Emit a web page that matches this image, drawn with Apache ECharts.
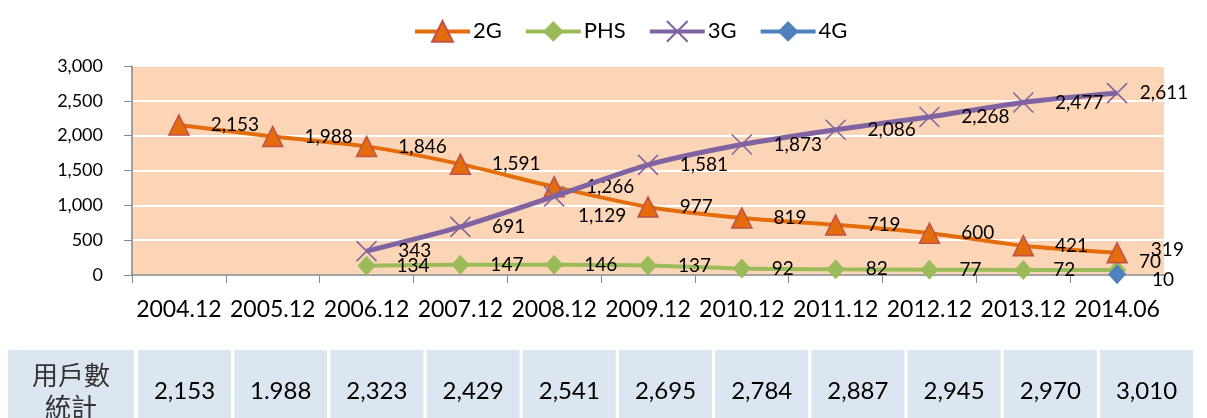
<!DOCTYPE html>
<html>
<head>
<meta charset="utf-8">
<script src="https://cdn.jsdelivr.net/npm/echarts@6/dist/echarts.min.js"></script>
<style>
html,body{margin:0;padding:0;background:#fff;}
#c{width:1207px;height:418px;}
</style>
</head>
<body>
<div id="c"></div>
<script>
const categories = ['2004.12','2005.12','2006.12','2007.12','2008.12','2009.12','2010.12','2011.12','2012.12','2013.12','2014.06'];
const s2G  = [2153,1988,1846,1591,1266,977,819,719,600,421,319];
const sPHS = [null,null,134,147,146,137,92,82,77,72,70];
const s3G  = [null,null,343,691,1129,1581,1873,2086,2268,2477,2611];
const s4G  = [null,null,null,null,null,null,null,null,null,null,10];
const tableHeader = '用戶數\n統計';
const tableValues = ['2,153','1.988','2,323','2,429','2,541','2,695','2,784','2,887','2,945','2,970','3,010'];

const FONT = 'Lato, "Open Sans", sans-serif';
const fmt = v => Number(v).toLocaleString('en-US');
const last = categories.length - 1;

function withOffset(arr, overrides) {
  return arr.map((v, i) => overrides[i] ? { value: v, label: { offset: overrides[i] } } : v);
}

const baseLabel = {
  show: true, position: 'right', distance: 21,
  color: '#000', fontFamily: FONT, fontSize: 19,
  formatter: p => fmt(p.value)
};

const xPath = 'path://M0,0L10,10M10,0L0,10';

const graphic = [];
graphic.push({ type: 'rect', shape: { x: 8, y: 350, width: 126, height: 80 }, style: { fill: '#DCE6F1' }, silent: true });
graphic.push({ type: 'text', x: 71, y: 391, style: { text: tableHeader, fill: '#333', font: '26px "Noto Sans CJK TC", sans-serif', lineHeight: 32, align: 'center', verticalAlign: 'middle' }, silent: true });
tableValues.forEach((t, i) => {
  const x = 138 + i * 96.2;
  graphic.push({ type: 'rect', shape: { x: x, y: 350, width: 93, height: 80 }, style: { fill: '#DCE6F1' }, silent: true });
  graphic.push({ type: 'text', x: x + 46.5, y: 391, style: { text: t, fill: '#000', font: '24px ' + FONT, align: 'center', verticalAlign: 'middle' }, silent: true });
});

const chart = echarts.init(document.getElementById('c'), null, { renderer: 'canvas' });
chart.setOption({
  animation: false,
  backgroundColor: '#fff',
  legend: {
    left: 408, top: 15, itemWidth: 55, itemHeight: 26, itemGap: 22,
    textStyle: { fontFamily: FONT, fontSize: 22, color: '#000', padding: [0, 0, 0, -2] },
    lineStyle: { width: 4 },
    data: ['2G', 'PHS', '3G', '4G']
  },
  grid: {
    left: 132, right: 43, top: 66, bottom: 143,
    show: true, backgroundColor: '#FBD5B5', borderWidth: 0
  },
  xAxis: {
    type: 'category', data: categories, boundaryGap: true,
    axisLine: { lineStyle: { color: '#868686', width: 1.5 } },
    axisTick: { show: true, length: 8, lineStyle: { color: '#868686' }, alignWithLabel: false },
    axisLabel: { color: '#000', fontFamily: FONT, fontSize: 23, margin: 23, interval: 0 },
    splitLine: { show: false }
  },
  yAxis: {
    type: 'value', min: 0, max: 3000, interval: 500,
    axisLine: { show: true, lineStyle: { color: '#868686', width: 1.5 } },
    axisTick: { show: true, length: 8, lineStyle: { color: '#868686' } },
    axisLabel: { color: '#000', fontFamily: FONT, fontSize: 18, margin: 29, formatter: v => fmt(v) },
    splitLine: { show: true, lineStyle: { color: '#ffffff', width: 2 } }
  },
  series: [
    {
      name: '2G', type: 'line', smooth: 0.25,
      data: withOffset(s2G, { [last]: [2, -3] }),
      symbol: 'triangle', symbolSize: 20,
      lineStyle: { color: '#E46C0A', width: 4 },
      itemStyle: { color: '#E46C0A', borderColor: '#C0504D', borderWidth: 1.5 },
      label: baseLabel, z: 3
    },
    {
      name: 'PHS', type: 'line', smooth: 0.25,
      data: withOffset(sPHS, { [last]: [-8, -8] }),
      symbol: 'diamond', symbolSize: [18, 20],
      lineStyle: { color: '#9BBB59', width: 4 },
      itemStyle: { color: '#9BBB59' },
      label: baseLabel, z: 2
    },
    {
      name: '3G', type: 'line', smooth: 0.25,
      data: withOffset(s3G, { 4: [-8, 20], [last]: [-9, 0] }),
      symbol: xPath, symbolSize: 20,
      lineStyle: { color: '#8064A2', width: 5 },
      itemStyle: { color: 'rgba(0,0,0,0)', borderColor: '#8064A2', borderWidth: 1.5 },
      label: baseLabel, z: 4
    },
    {
      name: '4G', type: 'line',
      data: withOffset(s4G, { [last]: [5, 6] }),
      symbol: 'diamond', symbolSize: [18, 20],
      lineStyle: { color: '#4F81BD', width: 4 },
      itemStyle: { color: '#4F81BD' },
      label: baseLabel, z: 5
    }
  ],
  graphic: graphic
});
</script>
</body>
</html>
